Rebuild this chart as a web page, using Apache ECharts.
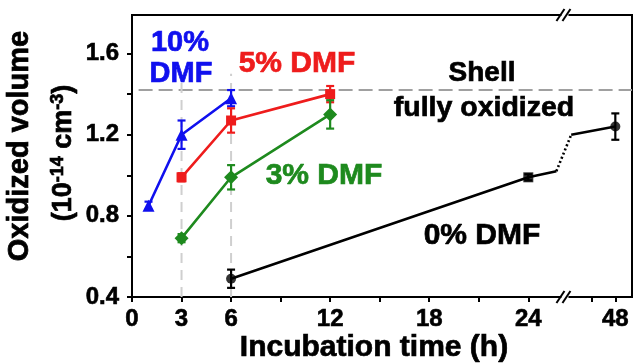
<!DOCTYPE html>
<html>
<head>
<meta charset="utf-8">
<script src="https://cdn.jsdelivr.net/npm/echarts@6/dist/echarts.min.js"></script>
<style>
html,body{margin:0;padding:0;background:#fff;}
#c{width:636px;height:363px;}
</style>
</head>
<body>
<div id="c"></div>
<script>
// ---- data (hours, oxidized volume in 1e-14 cm^3, error) ----
const tBlue = [1, 3, 6];
const vBlue = [0.85, 1.20, 1.38];
const eBlue = [0.02, 0.07, 0.04];

const tRed = [3, 6, 12];
const vRed = [0.99, 1.27, 1.40];
const eRed = [0.02, 0.06, 0.04];

const tGreen = [3, 6, 12];
const vGreen = [0.69, 0.99, 1.30];
const eGreen = [0.02, 0.06, 0.07];

const tBlack = [6, 24, 48];
const vBlack = [0.49, 0.99, 1.24];
const eBlack = [0.045, 0.015, 0.065];

// black line pieces around the axis break (axis units, value)
const breakFrom = [25.7, 1.02];
const breakTo = [26.6, 1.20];

// reference lines
const shellLevel = 1.42;
const shellStart = 0.4;
const guideTimes = [3, 6];
const guideTop = 1.5;

// axis ticks / labels
const xLabelTimes = [0, 3, 6, 12, 18, 24, 48];
const xMinorTicks = [9, 15, 21];
const xPostBreakTick = 27.86;   // axis position of minor tick after the break
const yTicks = [0.4, 0.6, 0.8, 1.0, 1.2, 1.4, 1.6];
const yLabels = [0.4, 0.8, 1.2, 1.6];

// broken x axis: times >= 48 are shifted so 48 sits at axis position 29.27
const BREAK_POS = 26.25;
const POS48 = 29.27;
function xPos(t) { return t > BREAK_POS ? POS48 + (t - 48) : t; }

const FONT = "'Liberation Sans', Arial, sans-serif";
const cBlue = '#1010ee', cRed = '#ee1c1c', cGreen = '#1e8a1e', cBlack = '#000';

function pts(ts, vs) { return ts.map((t, i) => [xPos(t), vs[i]]); }
function errs(ts, vs, es) { return ts.map((t, i) => [xPos(t), vs[i], es[i]]); }

function errSeries(data, color) {
  return {
    type: 'custom', z: 4, silent: true,
    renderItem: function (params, api) {
      const x = api.value(0), y = api.value(1), e = api.value(2);
      const hi = api.coord([x, y + e]), lo = api.coord([x, y - e]);
      const w = 4;
      const st = { stroke: color, lineWidth: 2.2 };
      return { type: 'group', children: [
        { type: 'line', shape: { x1: hi[0], y1: hi[1], x2: lo[0], y2: lo[1] }, style: st },
        { type: 'line', shape: { x1: hi[0] - w, y1: hi[1], x2: hi[0] + w, y2: hi[1] }, style: st },
        { type: 'line', shape: { x1: lo[0] - w, y1: lo[1], x2: lo[0] + w, y2: lo[1] }, style: st }
      ]};
    },
    data: data
  };
}

const tickPositions = [0, 3, 6, 12, 18, 24].concat(xMinorTicks, [xPostBreakTick, xPos(48)]);

const chart = echarts.init(document.getElementById('c'), null, { renderer: 'canvas' });

const blackData = pts(tBlack, vBlack);
const option = {
  animation: false,
  backgroundColor: '#fff',
  grid: { left: 132, right: 4, top: 15, bottom: 66, show: true, borderColor: '#000', borderWidth: 2, backgroundColor: 'transparent' },
  xAxis: {
    type: 'value', min: 0, max: 30.28,
    axisLine: { onZero: false, lineStyle: { color: '#000', width: 2 } },
    splitLine: { show: false },
    axisTick: { show: true, inside: false, length: 5, lineStyle: { width: 2, color: '#000' },
      customValues: tickPositions },
    axisLabel: { customValues: xLabelTimes.map(xPos), margin: 10,
      color: '#000', fontSize: 24, fontWeight: 'bold', fontFamily: FONT,
      textBorderColor: '#000', textBorderWidth: 0.6,
      formatter: function (v) { return Math.abs(v - POS48) < 0.01 ? '48' : String(Math.round(v)); } }
  },
  yAxis: {
    type: 'value', min: 0.4, max: 1.79,
    axisLine: { onZero: false, lineStyle: { color: '#000', width: 2 } },
    splitLine: { show: false },
    axisTick: { show: true, inside: false, length: 5, lineStyle: { width: 2, color: '#000' }, customValues: yTicks },
    axisLabel: { customValues: yLabels, margin: 13, color: '#000', fontSize: 24, fontWeight: 'bold', fontFamily: FONT,
      textBorderColor: '#000', textBorderWidth: 0.6,
      formatter: function (v) { return v.toFixed(1); } }
  },
  series: [
    { type: 'line', silent: true, symbol: 'none', z: 1,
      data: [[shellStart, shellLevel], [30.28, shellLevel]],
      lineStyle: { color: '#a0a0a0', width: 2, type: [14, 6] } },
    ...guideTimes.map(t => ({ type: 'line', silent: true, symbol: 'none', z: 1,
      data: [[t, 0.4], [t, guideTop]],
      lineStyle: { color: '#cfcfcf', width: 2, type: [10, 7] } })),
    { type: 'line', data: pts(tBlue, vBlue), z: 3,
      lineStyle: { color: cBlue, width: 2.6 }, symbol: 'triangle', symbolSize: 12,
      itemStyle: { color: cBlue } },
    errSeries(errs(tBlue, vBlue, eBlue), cBlue),
    { type: 'line', data: pts(tRed, vRed), z: 3,
      lineStyle: { color: cRed, width: 2.6 }, symbol: 'rect', symbolSize: 10,
      itemStyle: { color: cRed } },
    errSeries(errs(tRed, vRed, eRed), cRed),
    { type: 'line', data: pts(tGreen, vGreen), z: 3,
      lineStyle: { color: cGreen, width: 2.6 }, symbol: 'diamond', symbolSize: 14,
      itemStyle: { color: cGreen } },
    errSeries(errs(tGreen, vGreen, eGreen), cGreen),
    { type: 'line', z: 3, symbol: 'none',
      data: [blackData[0], blackData[1], breakFrom],
      lineStyle: { color: cBlack, width: 2.6 } },
    { type: 'line', z: 3, symbol: 'none',
      data: [breakFrom, breakTo],
      lineStyle: { color: cBlack, width: 2.6, type: [2, 2.5] } },
    { type: 'line', z: 3, symbol: 'none',
      data: [breakTo, blackData[2]],
      lineStyle: { color: cBlack, width: 2.6 } },
    { type: 'scatter', z: 5, data: blackData.map((d, i) => ({ value: d, symbol: i === 1 ? 'rect' : 'circle' })),
      symbolSize: 10, itemStyle: { color: cBlack } },
    errSeries(errs(tBlack, vBlack, eBlack), cBlack)
  ]
};
chart.setOption(option);

function txt(text, x, y, color, size, extra) {
  return Object.assign({ type: 'text', x: x, y: y, z: 10, silent: true,
    style: { text: text, fill: color, stroke: color, lineWidth: 0.7, font: 'bold ' + size + 'px ' + FONT, align: 'center', verticalAlign: 'middle' } }, extra || {});
}
const breakTop = chart.convertToPixel({ gridIndex: 0 }, [BREAK_POS, 1.79]);
const breakBot = chart.convertToPixel({ gridIndex: 0 }, [BREAK_POS, 0.4]);
function breakMark(p) {
  const x = p[0], y = p[1];
  const st = { stroke: '#000', lineWidth: 2 };
  return [
    { type: 'rect', z: 20, shape: { x: x - 4, y: y - 2, width: 7, height: 4 }, style: { fill: '#fff' } },
    { type: 'line', z: 21, shape: { x1: x - 9, y1: y + 6, x2: x - 1, y2: y - 6 }, style: st },
    { type: 'line', z: 21, shape: { x1: x - 3, y1: y + 6, x2: x + 5, y2: y - 6 }, style: st }
  ];
}
chart.setOption({
  graphic: [
    txt('10%', 180, 43, cBlue, 29),
    txt('DMF', 181, 74, cBlue, 29),
    txt('5% DMF', 297, 64, cRed, 30),
    txt('3% DMF', 324, 176, cGreen, 30),
    txt('0% DMF', 482, 236, cBlack, 30),
    txt('Shell', 482, 73, cBlack, 28),
    txt('fully oxidized', 484, 108, cBlack, 28.5),
    txt('Incubation time (h)', 374, 348, cBlack, 30),
    txt('Oxidized volume', 20, 146, cBlack, 29, { rotation: Math.PI / 2 }),
    { type: 'text', x: 64, y: 153, z: 10, rotation: Math.PI / 2, silent: true,
      style: { text: '(10{s|-14} cm{s|-3})', fill: '#000', stroke: '#000', lineWidth: 0.7, font: 'bold 27px ' + FONT, align: 'center', verticalAlign: 'middle',
        rich: { s: { fontSize: 18, fontWeight: 'bold', fontFamily: FONT, fill: '#000', verticalAlign: 'top', lineHeight: 30 } } } },
    ...breakMark(breakTop),
    ...breakMark(breakBot)
  ]
});
</script>
</body>
</html>
